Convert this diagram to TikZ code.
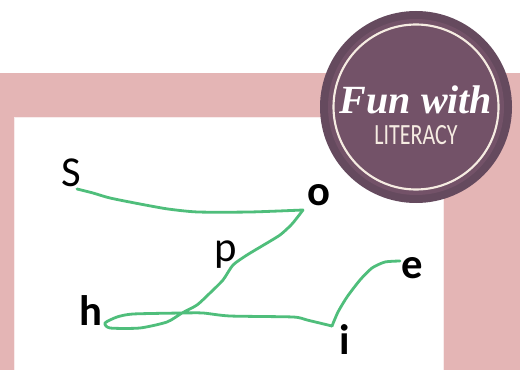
\documentclass[tikz,border=0pt]{standalone}
\usepackage{fontspec}
\setmainfont{Carlito}
\newfontfamily\badgefont{Liberation Serif}
\definecolor{framepink}{HTML}{E4B5B5}
\definecolor{badge}{HTML}{735268}
\definecolor{badgerim}{HTML}{654A5E}
\definecolor{badgering}{HTML}{F6ECE2}
\definecolor{trace}{HTML}{4FBE7B}
\tikzset{letter/.style={font=\fontsize{32}{32}\selectfont,text=black,inner sep=0pt},
  trace/.style={draw=trace,line width=2.1pt,line join=round,line cap=round}}
\begin{document}
\begin{tikzpicture}[x=0.75pt,y=-0.75pt]
\useasboundingbox (0,0) rectangle (520,370);
\fill[white] (0,0) rectangle (520,370);
\fill[framepink] (0,73) rectangle (520,370);
\fill[white,draw=framepink!25] (14,117) rectangle (443,371);
\node[letter] (S) at (71,173){S};
\node[letter] (o) at (319,195){\bfseries o};
\node[letter] (p) at (226,255){p};
\node[letter] (h) at (91,311){\bfseries h};
\node[letter] (e) at (412,268){\bfseries e};
\node[letter] (i) at (345,340){\bfseries i};
\draw[trace] plot[smooth,tension=0.4] coordinates {(77,189) (93,193) (110,198) (140,204) (168,209) (198,212) (250,212) (303,210)};
\draw[trace] plot[smooth,tension=0.4] coordinates {(303,210) (292,224) (280,235) (262,246) (247,255) (233,265) (223,280) (210,293) (197,305) (182,313) (167,322) (140,328) (110,328) (105,323) (117,317) (133,314) (182,313) (203,313) (230,316) (293,317) (307,320) (332,326)};
\draw[trace] plot[smooth,tension=0.4] coordinates {(332,326) (338,312) (347,297) (360,280) (372,268) (385,262) (400,261)};
\fill[badgerim] (416,107) circle (96);
\fill[badge] (416,107) circle (88);
\draw[badgering,line width=1.6pt] (416,107) circle (82.5);
\node[font=\fontsize{30}{30}\selectfont\badgefont\bfseries\itshape,text=white,inner sep=0pt] (fun) at (416,100){Fun with};
\node[font=\fontsize{22}{22}\selectfont,text=badgering,inner sep=0pt,xscale=0.75] (lit) at (416,135){LITERACY};
\end{tikzpicture}
\end{document}
